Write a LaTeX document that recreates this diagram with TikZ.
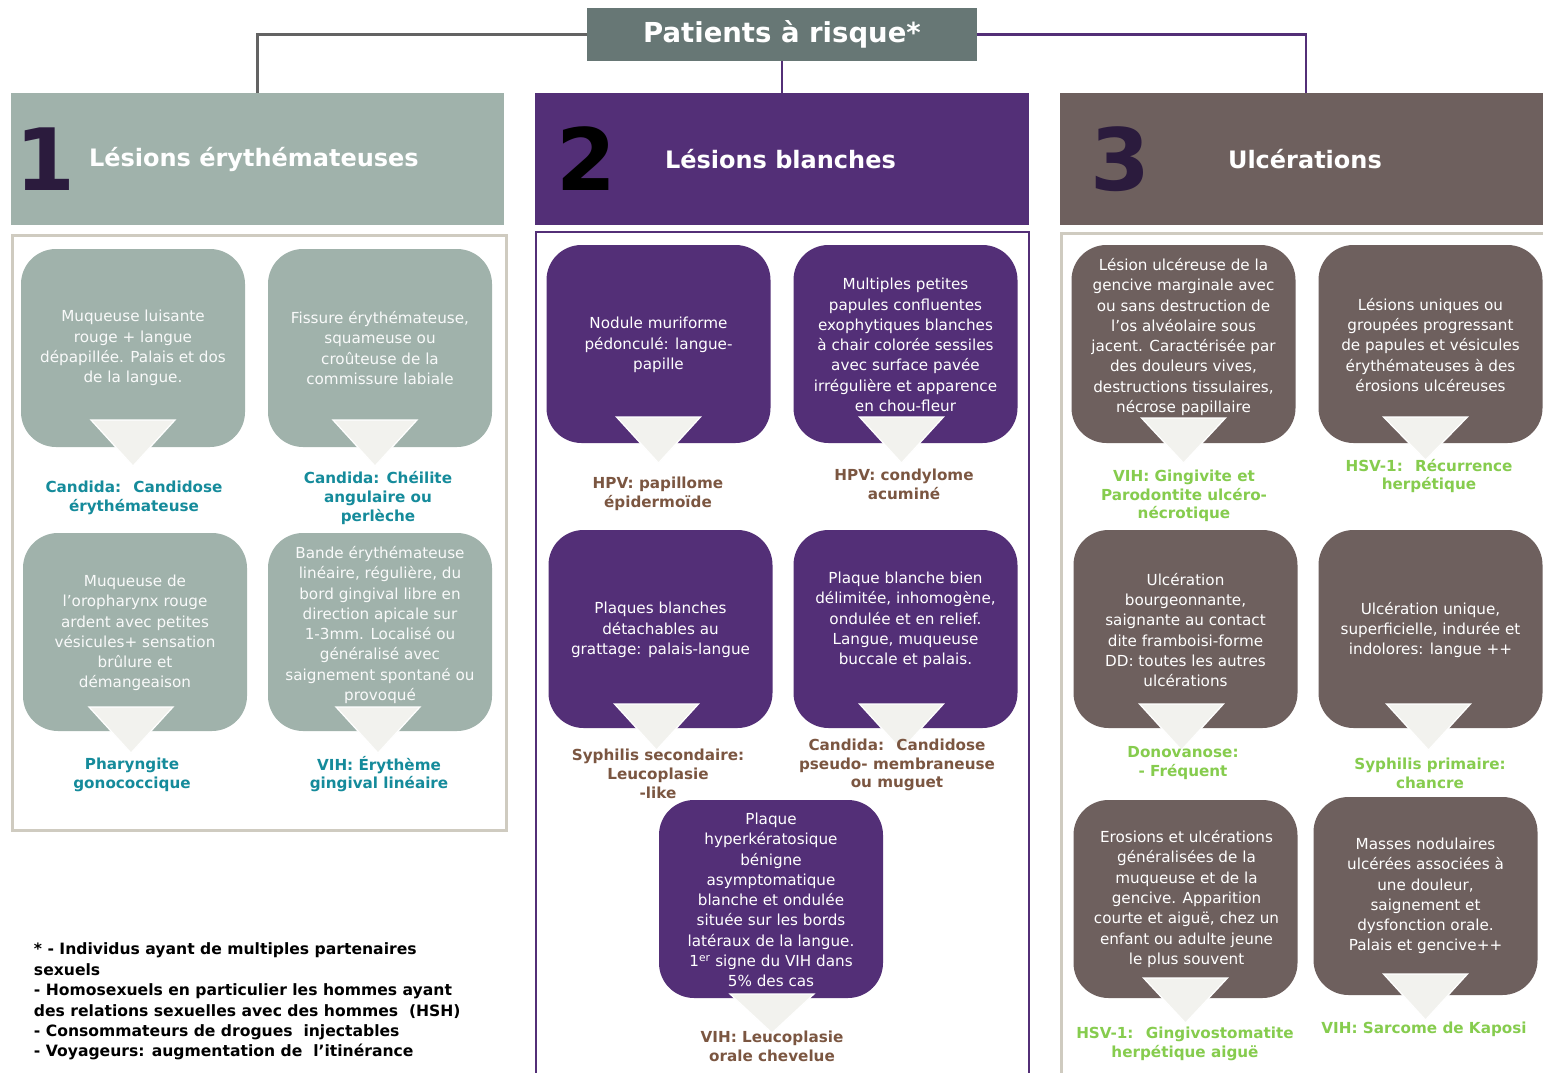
\documentclass[tikz,border=0pt]{standalone}
\usepackage{fontspec}
\setmainfont{DejaVu Sans}
\usetikzlibrary{calc}
\definecolor{ctitle}{HTML}{677775}
\definecolor{cgreen}{HTML}{A0B2AB}
\definecolor{cpurple}{HTML}{532F77}
\definecolor{cbrown}{HTML}{6E605E}
\definecolor{cnum}{HTML}{2B1B3D}
\definecolor{cteal}{HTML}{158B9B}
\definecolor{clbrown}{HTML}{7B5641}
\definecolor{clgreen}{HTML}{86CC4E}
\definecolor{ctri}{HTML}{F2F2EE}
\definecolor{cbeige}{HTML}{CFCBC0}
\definecolor{cline}{HTML}{636363}
\newcommand\ptr[4]{\path[tri] ($(#1.south)+(#2-42,#3)$) -- ($(#1.south)+(#2+42,#3)$) -- ($(#1.south)+(#2,#4)$) -- cycle;}
\begin{document}
\begin{tikzpicture}[x=1pt,y=-1pt,
  every node/.style={inner sep=0pt, outer sep=0pt},
  card/.style={rounded corners=35pt, minimum width=224pt, minimum height=198pt},
  cardg/.style={card, fill=cgreen},
  cardp/.style={card, fill=cpurple},
  cardb/.style={card, fill=cbrown},
  ctext/.style={align=center, font=\fontsize{15.2}{20.3}\selectfont, text=white},
  lbl/.style={align=center, font=\bfseries\fontsize{15.2}{18.8}\selectfont},
  lblt/.style={lbl, text=cteal},
  lblb/.style={lbl, text=clbrown},
  lblg/.style={lbl, text=clgreen},
  tri/.style={fill=ctri, draw=white, line width=1.2pt},
  hdr/.style={minimum height=132pt},
  num/.style={anchor=base west, font=\bfseries\fontsize{86}{86}\selectfont},
  htitle/.style={anchor=west, text=white, font=\bfseries\fontsize{24}{28}\selectfont},
  conn/.style={line width=2.5pt}
]
\useasboundingbox (0,0) rectangle (1543,1073);
\fill[white] (0,0) rectangle (1543,1073);

% title
\node[fill=ctitle, minimum width=390pt, minimum height=53pt, text=white,
  font=\bfseries\fontsize{27.5}{30}\selectfont] (title) at (782,34.5) {\raisebox{-2pt}{Patients à risque*}};

% header boxes
\node[hdr, fill=cgreen, minimum width=493pt] (h1) at (257.5,159) {};
\node[hdr, fill=cpurple, minimum width=494pt] (h2) at (782,159) {};
\node[hdr, fill=cbrown, minimum width=492pt] (h3) at (1306,159) {};

\draw[conn, cline] (title.west) -| (h1.north);
\draw[conn, cpurple] (title.east) -| (h3.north);
\draw[conn, cpurple] (title.south) -- (h2.north);

\node[num, text=cnum] (n1) at (16,190) {1};
\node[num, text=black] (n2) at (556,190) {2};
\node[num, text=cnum] (n3) at (1090,190) {3};
\node[htitle] (t1) at (89,159) {Lésions érythémateuses};
\node[htitle] (t2) at (665,159) {Lésions blanches};
\node[htitle] (t3) at (1228,159) {Ulcérations};

% panels
\draw[cbeige, line width=3pt] (12,235) rectangle (506,830);
\draw[cpurple, line width=2.5pt] (536,232) rectangle (1029,1090);
\draw[cbeige, line width=3pt] (1061,233) rectangle (1560,1090);

% ---------- column 1
\node[cardg] (cA) at (133,348) {};
\node[cardg] (cB) at (380,348) {};
\node[cardg] (cC) at (135,632) {};
\node[cardg] (cD) at (380,632) {};
\node[ctext, text=white!94!cgreen] (xA) at (133,348) {Muqueuse luisante\\rouge + langue\\dépapillée. Palais et dos\\de la langue.};
\node[ctext, text=white!94!cgreen] (xB) at (380,348) {Fissure érythémateuse,\\squameuse ou\\croûteuse de la\\commissure labiale};
\node[ctext, text=white!94!cgreen] (xC) at (135,633) {Muqueuse de\\l’oropharynx rouge\\ardent avec petites\\vésicules+ sensation\\brûlure et\\démangeaison};
\node[ctext, text=white!94!cgreen] (xD) at (380,625) {Bande érythémateuse\\linéaire, régulière, du\\bord gingival libre en\\direction apicale sur\\1-3mm. Localisé ou\\généralisé avec\\saignement spontané ou\\provoqué};
\ptr{cA}{0}{-27}{19}
\ptr{cB}{-5}{-27}{19}
\ptr{cC}{-4}{-24}{22}
\ptr{cD}{-2}{-24}{22}
\node[lblt] (lA) at (134,498) {Candida:~ Candidose\\érythémateuse};
\node[lblt] (lB) at (378,498) {Candida: Chéilite\\angulaire ou\\perlèche};
\node[lblt] (lC) at (132,775) {Pharyngite\\gonococcique};
\node[lblt] (lD) at (379,774) {VIH: Érythème\\gingival linéaire};

% ---------- column 2
\node[cardp] (cE) at (658.5,344) {};
\node[cardp] (cF) at (905.5,344) {};
\node[cardp] (cG) at (660.5,629) {};
\node[cardp] (cH) at (905.5,629) {};
\node[cardp] (cI) at (771,899) {};
\node[ctext] (xE) at (658.5,345) {Nodule muriforme\\pédonculé: langue-\\papille};
\node[ctext] (xF) at (905.5,345) {Multiples petites\\papules confluentes\\exophytiques blanches\\à chair colorée sessiles\\avec surface pavée\\irrégulière et apparence\\en chou-fleur};
\node[ctext] (xG) at (660.5,630) {Plaques blanches\\détachables au\\grattage: palais-langue};
\node[ctext] (xH) at (905.5,620) {Plaque blanche bien\\délimitée, inhomogène,\\ondulée et en relief.\\Langue, muqueuse\\buccale et palais.};
\node[ctext] (xI) at (771,900) {Plaque\\hyperkératosique\\bénigne\\asymptomatique\\blanche et ondulée\\située sur les bords\\latéraux de la langue.\\1\textsuperscript{er} signe du VIH dans\\5\% des cas};
\ptr{cE}{0}{-26}{20}
\ptr{cF}{-4}{-26}{20}
\ptr{cG}{-4}{-24}{22}
\ptr{cH}{-4}{-24}{22}
\ptr{cI}{1}{-4}{35}
\node[lblb] (lE) at (658,494) {HPV: papillome\\épidermoïde};
\node[lblb] (lF) at (904,484) {HPV: condylome\\acuminé};
\node[lblb] (lG) at (658,774) {Syphilis secondaire:\\Leucoplasie\\-like};
\node[lblb] (lH) at (897,765) {Candida:~ Candidose\\pseudo- membraneuse\\ou muguet};
\node[lblb] (lI) at (772,1046) {VIH: Leucoplasie\\orale chevelue};

% ---------- column 3
\node[cardb] (cJ) at (1183.5,344) {};
\node[cardb] (cK) at (1430.5,344) {};
\node[cardb] (cL) at (1185.5,629) {};
\node[cardb] (cM) at (1430.5,629) {};
\node[cardb] (cN) at (1185.5,899) {};
\node[cardb] (cO) at (1425.5,896) {};
\node[ctext] (xJ) at (1183.5,337) {Lésion ulcéreuse de la\\gencive marginale avec\\ou sans destruction de\\l’os alvéolaire sous\\jacent. Caractérisée par\\des douleurs vives,\\destructions tissulaires,\\nécrose papillaire};
\node[ctext] (xK) at (1430.5,345) {Lésions uniques ou\\groupées progressant\\de papules et vésicules\\érythémateuses à des\\érosions ulcéreuses};
\node[ctext] (xL) at (1185.5,630) {Ulcération\\bourgeonnante,\\saignante au contact\\dite framboisi-forme\\DD: toutes les autres\\ulcérations};
\node[ctext] (xM) at (1430.5,630) {Ulcération unique,\\superficielle, indurée et\\indolores: langue ++};
\node[ctext] (xN) at (1186.5,899) {Erosions et ulcérations\\généralisées de la\\muqueuse et de la\\gencive. Apparition\\courte et aiguë, chez un\\enfant ou adulte jeune\\le plus souvent};
\node[ctext] (xO) at (1425.5,896) {Masses nodulaires\\ulcérées associées à\\une douleur,\\saignement et\\dysfonction orale.\\Palais et gencive++};
\ptr{cJ}{0}{-25}{20}
\ptr{cK}{-5}{-26}{17}
\ptr{cL}{-4}{-24}{22}
\ptr{cM}{-2}{-24}{22}
\ptr{cN}{0}{-20}{25}
\ptr{cO}{0}{-21}{25}
\node[lblg] (lJ) at (1184,496) {VIH: Gingivite et\\Parodontite ulcéro-\\nécrotique};
\node[lblg] (lK) at (1429,476) {HSV-1:~ Récurrence\\herpétique};
\node[lblg] (lL) at (1183,763) {Donovanose:\\- Fréquent};
\node[lblg] (lM) at (1430,773) {Syphilis primaire:\\chancre};
\node[lblg] (lN) at (1185,1044) {HSV-1:~ Gingivostomatite\\herpétique aiguë};
\node[lblg] (lO) at (1424,1029) {VIH: Sarcome de Kaposi};

% footnote
\node[anchor=north west, align=left, font=\bfseries\fontsize{15.6}{20.4}\selectfont] (foot) at (34,943)
 {* - Individus ayant de multiples partenaires\\sexuels\\- Homosexuels en particulier les hommes ayant\\des relations sexuelles avec des hommes~ (HSH)\\- Consommateurs de drogues~ injectables\\- Voyageurs: augmentation de~ l’itinérance};
\end{tikzpicture}
\end{document}
